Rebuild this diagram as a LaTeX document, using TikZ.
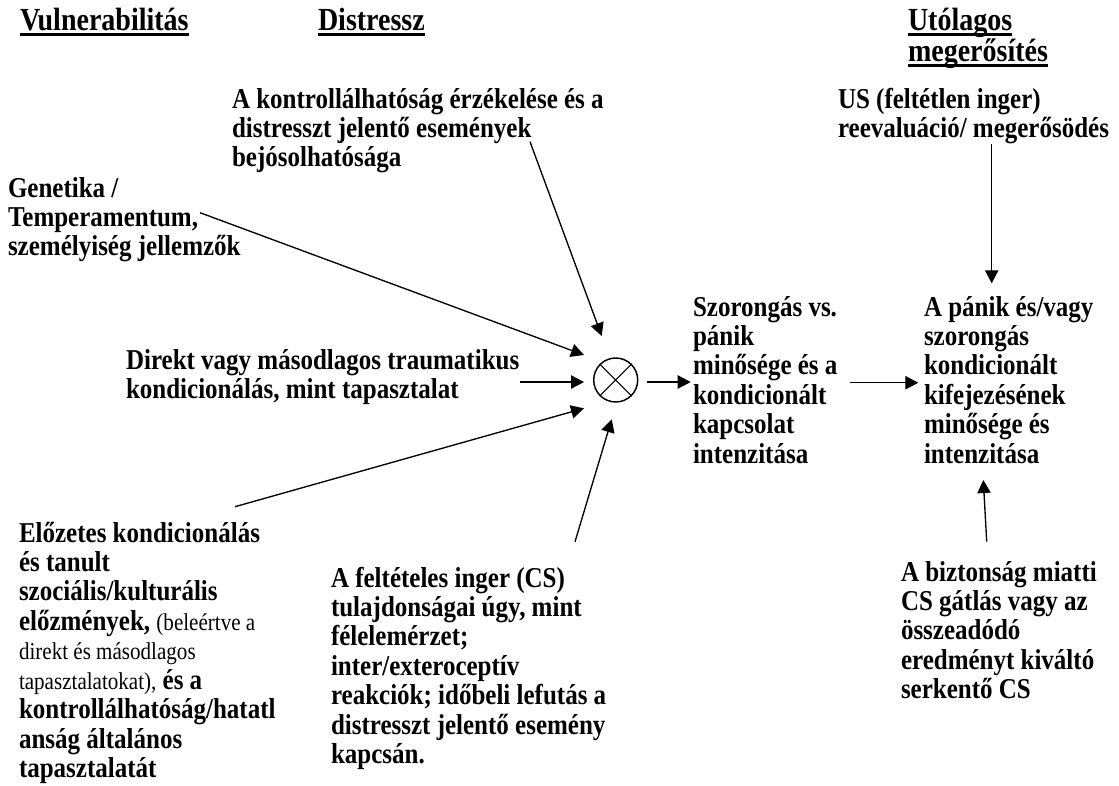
\documentclass[tikz,border=0pt]{standalone}
\usepackage{fontspec}
\setmainfont{Liberation Serif}
\usetikzlibrary{arrows.meta}

% underlined heading word, rule at a fixed depth below the baseline
\newcommand\hdul[1]{\setbox0=\hbox{#1}\rlap{\rule[-3pt]{\wd0}{1.5pt}}\box0}
% left-aligned block of lines, reference point on the first baseline,
% lines always one fixed baseline distance apart
\newcommand\blkskip[2]{\vtop{\baselineskip=#1\lineskiplimit=-\maxdimen
  \let\\\cr\halign{##\hfil\cr#2\crcr}}}
\newcommand\blk[1]{\blkskip{19.2pt}{#1}}
\newcommand\sm{\fontsize{15.8pt}{19.2pt}\mdseries\selectfont}

\begin{document}
\begin{tikzpicture}[x=0.75pt,y=-0.75pt,
  txt/.style={anchor=base west,inner sep=0pt,outer sep=0pt,
    yscale=1.15,transform shape,
    font=\bfseries\fontsize{18.75pt}{19.2pt}\selectfont},
  head/.style={txt,font=\bfseries\fontsize{21pt}{20.2pt}\selectfont},
  arr/.style={line width=1pt,-{Triangle[length=9.75pt,width=10pt]}},
  mix/.style={circle,draw,line width=1.1pt,minimum size=33pt,inner sep=0pt}]
\useasboundingbox (0,0) rectangle (1119,785);

% headings
\node[head] (hv) at (20,31) {\hdul{Vulnerabilitás}};
\node[head] (hd) at (318,31) {\hdul{Distressz}};
\node[head] (hu) at (908,31) {\blkskip{20.2pt}{\hdul{Utólagos}\\ \hdul{megerősítés}}};

% text blocks
\node[txt] (kontroll) at (232,108) {\blk{A kontrollálhatóság érzékelése és a\\
  distresszt jelentő események\\ bejósolhatósága}};
\node[txt] (us) at (838,108) {\blk{US (feltétlen inger)\\ reevaluáció/ megerősödés}};
\node[txt] (gen) at (8,197) {\blk{Genetika /\\ Temperamentum,\\ személyiség jellemzők}};
\node[txt] (direkt) at (126,369) {\blk{Direkt vagy másodlagos traumatikus\\
  kondicionálás, mint tapasztalat}};
\node[txt] (szor) at (693,316) {\blk{Szorongás vs.\\ pánik\\ minősége és a\\
  kondicionált\\ kapcsolat\\ intenzitása}};
\node[txt] (panik) at (924,316) {\blk{A pánik és/vagy\\ szorongás\\ kondicionált\\
  kifejezésének\\ minősége és\\ intenzitása}};
\node[txt] (elo) at (19,542) {\blk{Előzetes kondicionálás\\ és tanult\\
  szociális/kulturális\\ előzmények, {\sm(beleértve a}\\ {\sm direkt és másodlagos}\\
  {\sm tapasztalatokat),} és a\\ kontrollálhatóság/hatatl\\ anság általános\\ tapasztalatát}};
\node[txt] (felt) at (331,587) {\blk{A feltételes inger (CS)\\ tulajdonságai úgy, mint\\
  félelemérzet;\\ inter/exteroceptív\\ reakciók; időbeli lefutás a\\
  distresszt jelentő esemény\\ kapcsán.}};
\node[txt] (bizt) at (901,581) {\blk{A biztonság miatti\\ CS gátlás vagy az\\
  összeadódó\\ eredményt kiváltó\\ serkentő CS}};

% combining node
\node[mix] (m) at (615.7,380) {};
\draw[line width=0.8pt] (m.north west) -- (m.south east);
\draw[line width=0.8pt] (m.north east) -- (m.south west);

% connector end points
\coordinate (gen-s) at (200,212.7);   \coordinate (gen-t) at (584,355);
\coordinate (kon-s) at (530,141.7);   \coordinate (kon-t) at (601.7,336);
\coordinate (dir-s) at (520,382);     \coordinate (dir-t) at (584,382);
\coordinate (elo-s) at (235,506.7);   \coordinate (elo-t) at (584,408.3);
\coordinate (fel-s) at (575,541.7);   \coordinate (fel-t) at (611.7,419.3);
\coordinate (out-s) at (647.3,382);   \coordinate (out-t) at (690.7,382);
\coordinate (szo-s) at (850,382.7);   \coordinate (szo-t) at (918.3,382.7);
\coordinate (us-s) at (991.7,144.3);  \coordinate (us-t) at (991.7,283.3);
\coordinate (biz-s) at (986.7,541.7); \coordinate (biz-t) at (983.3,480);

\draw[arr] (gen-s) -- (gen-t);
\draw[arr] (kon-s) -- (kon-t);
\draw[arr] (dir-s) -- (dir-t);
\draw[arr] (elo-s) -- (elo-t);
\draw[arr] (fel-s) -- (fel-t);
\draw[arr] (out-s) -- (out-t);
\draw[arr] (szo-s) -- (szo-t);
\draw[arr] (us-s) -- (us-t);
\draw[arr] (biz-s) -- (biz-t);
\end{tikzpicture}
\end{document}
